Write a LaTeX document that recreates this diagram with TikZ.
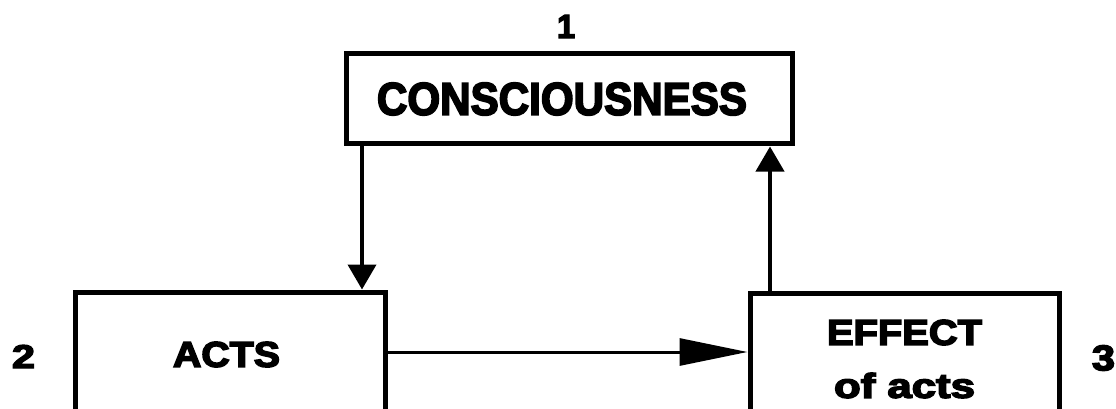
\documentclass[tikz,border=0pt]{standalone}
\usepackage{fontspec}
\newfontfamily\blk{Liberation Sans Bold}[FakeBold=4]
\usetikzlibrary{arrows.meta}
\tikzset{
  box/.style={draw, line width=5pt, inner sep=0pt, font=\blk, align=center},
  num/.style={inner sep=0pt, font=\blk},
  varrow/.style={line width=4pt, -{Triangle[length=25pt,width=28pt]}},
  harrow/.style={line width=3pt, -{Triangle[length=68pt,width=27pt]}},
}
\begin{document}
\begin{tikzpicture}[x=1pt,y=1pt]
\useasboundingbox (0,0) rectangle (1116,-409);
\clip (0,0) rectangle (1116,-409);
\node[box, minimum width=446pt, minimum height=90pt] (cons) at (569,-99)
  {\resizebox{370pt}{32pt}{CONSCIOUSNESS}\kern14pt};
\node[box, minimum width=310pt, minimum height=125pt] (acts) at (230,-354.5)
  {\resizebox{107pt}{25pt}{ACTS}\kern7pt};
\node[box, minimum width=309pt, minimum height=132pt, font=\blk\fontsize{30}{53}\selectfont] (effect) at (904.5,-359)
  {\resizebox{155pt}{25pt}{EFFECT}\\\resizebox{141pt}{25pt}{of acts}};
\node[num] (n1) at (566,-26.5) {\resizebox{18pt}{23pt}{1}};
\node[num] (n2) at (23.5,-356.5) {\resizebox{23pt}{23pt}{2}};
\node[num] (n3) at (1103.5,-358) {\resizebox{23pt}{25pt}{3}};
\draw[varrow] (362,0 |- cons.south) -- (362,0 |- acts.north);
\draw[varrow] (770,0 |- effect.north) -- (770,0 |- cons.south);
\draw[harrow] (acts.east |- 0,-352) -- (effect.west |- 0,-352);
\end{tikzpicture}
\end{document}
